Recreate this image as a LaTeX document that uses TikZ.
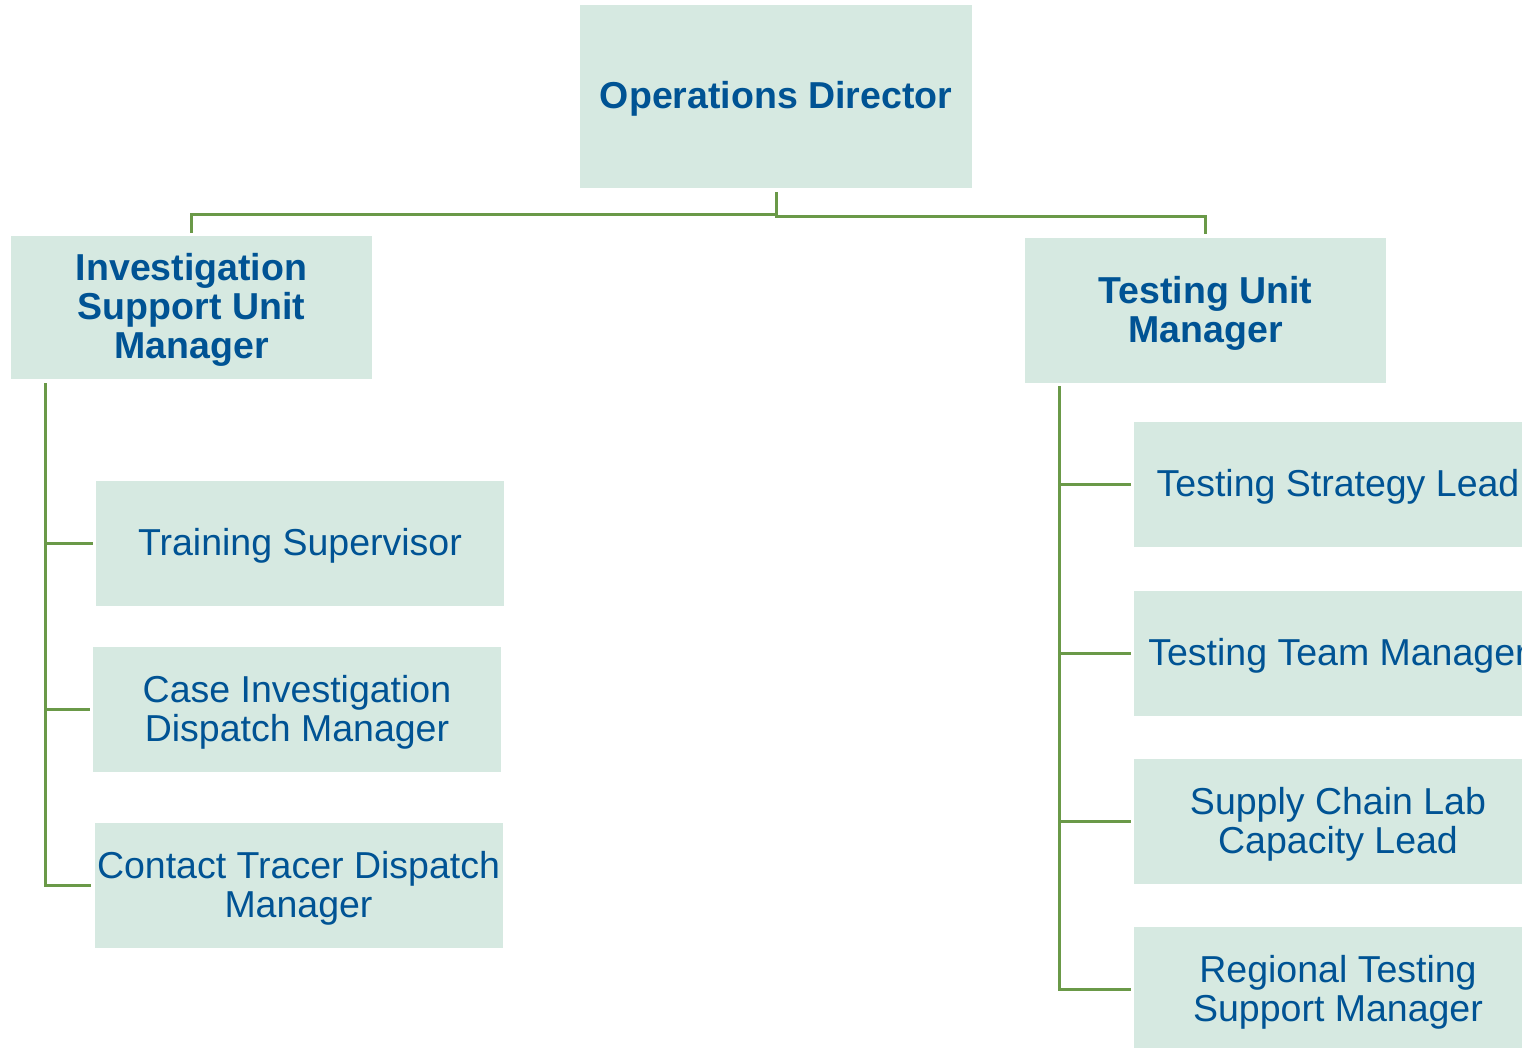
\documentclass[tikz,border=0pt]{standalone}
\usepackage{fontspec}
\setmainfont{Liberation Sans}
\definecolor{boxfill}{RGB}{214,233,225}
\definecolor{txtblue}{RGB}{0,83,148}
\definecolor{lgreen}{RGB}{106,153,72}
\tikzset{
  orgbox/.style={fill=boxfill, draw=none, inner sep=0pt},
  lbl/.style={inner sep=0pt, align=center, text=txtblue, yshift=-2.5pt,
    font=\fontsize{37.5}{39}\selectfont},
  hlbl/.style={lbl, font=\fontsize{37.5}{39}\selectfont\bfseries},
  conn/.style={draw=lgreen, line width=3pt}
}
\begin{document}
\begin{tikzpicture}[x=1pt,y=-1pt]
\clip (0,0) rectangle (1522,1047);
\fill[white] (0,0) rectangle (1522,1047);
% head nodes
\node[orgbox, minimum width=392pt, minimum height=183pt,
  label={[hlbl]center:Operations Director}] (od) at (776,96.5) {};
\node[orgbox, minimum width=361pt, minimum height=143pt,
  label={[hlbl]center:Investigation\\Support Unit\\Manager}] (isu) at (191.5,307.5) {};
\node[orgbox, minimum width=361pt, minimum height=145pt,
  label={[hlbl]center:Testing Unit\\Manager}] (tum) at (1205.5,310.5) {};
% left children
\node[orgbox, minimum width=408pt, minimum height=125pt,
  label={[lbl]center:Training Supervisor}] (ts) at (300,543.5) {};
\node[orgbox, minimum width=408pt, minimum height=125pt,
  label={[lbl]center:Case Investigation\\Dispatch Manager}] (cid) at (297,709.5) {};
\node[orgbox, minimum width=408pt, minimum height=125pt,
  label={[lbl]center:Contact Tracer Dispatch\\Manager}] (ctd) at (298.5,885.5) {};
% right children
\node[orgbox, minimum width=408pt, minimum height=125pt,
  label={[lbl]center:Testing Strategy Lead}] (tsl) at (1338,484.5) {};
\node[orgbox, minimum width=408pt, minimum height=125pt,
  label={[lbl]center:Testing Team Manager}] (ttm) at (1338,653.5) {};
\node[orgbox, minimum width=408pt, minimum height=125pt,
  label={[lbl]center:Supply Chain Lab\\Capacity Lead}] (scl) at (1338,821.5) {};
\node[orgbox, minimum width=408pt, minimum height=125pt,
  label={[lbl]center:Regional Testing\\Support Manager}] (rts) at (1338,989.5) {};
% top connectors
\draw[conn] ([yshift=-4pt]od.south) -- ++(0,22) -| ([yshift=3pt]isu.north);
\draw[conn] ([yshift=-4pt]od.south) -- ++(0,24) -| ([yshift=4pt]tum.north);
% left tree
\coordinate (lv) at ([xshift=35pt,yshift=-4pt]isu.south west);
\draw[conn] (lv) |- ([xshift=-3pt]ts.west);
\draw[conn] (lv) |- ([xshift=-3pt]cid.west);
\draw[conn] (lv) |- ([xshift=-3pt]ctd.west);
% right tree
\coordinate (rv) at ([xshift=35pt,yshift=-3pt]tum.south west);
\draw[conn] (rv) |- ([xshift=-3pt]tsl.west);
\draw[conn] (rv) |- ([xshift=-3pt]ttm.west);
\draw[conn] (rv) |- ([xshift=-3pt]scl.west);
\draw[conn] (rv) |- ([xshift=-3pt]rts.west);
\end{tikzpicture}
\end{document}
